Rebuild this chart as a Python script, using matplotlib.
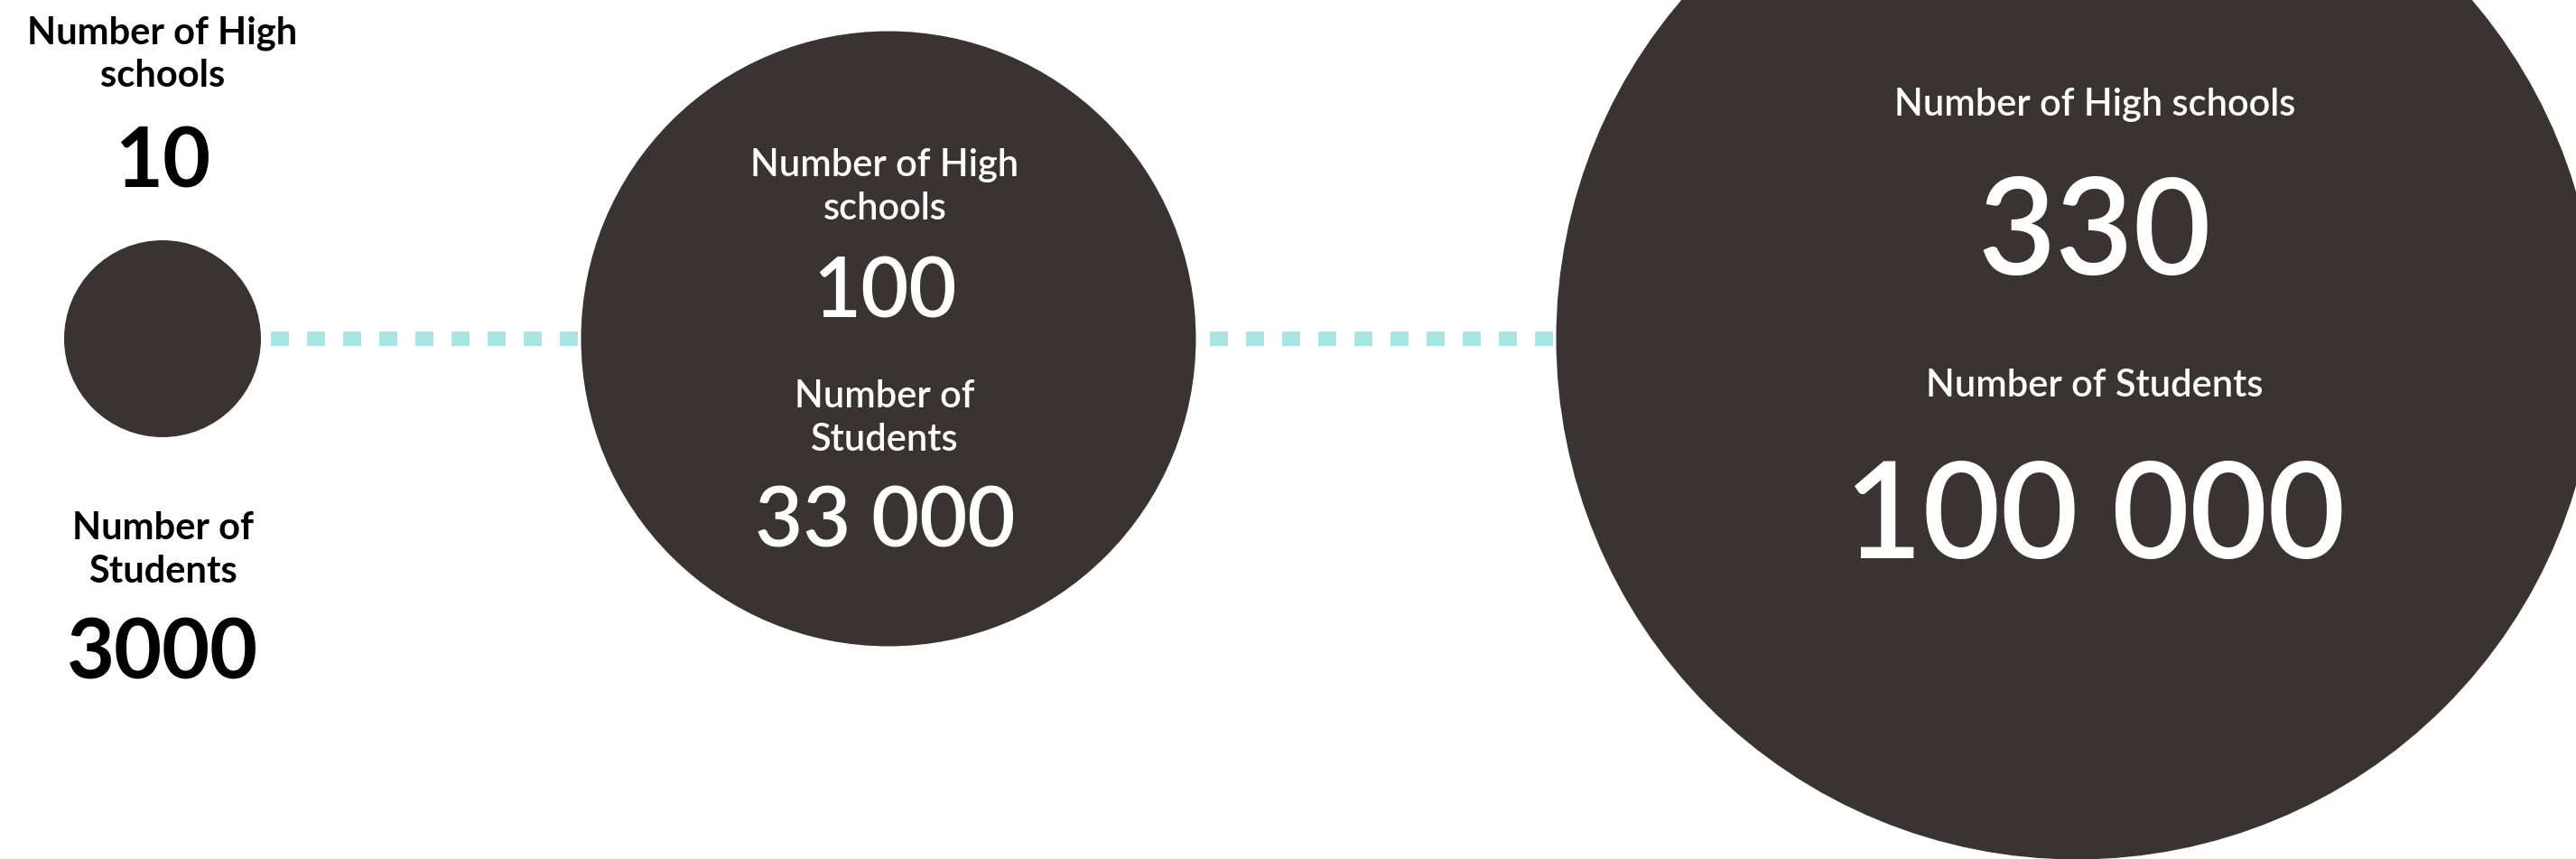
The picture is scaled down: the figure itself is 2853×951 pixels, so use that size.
import matplotlib
matplotlib.use("Agg")
import matplotlib.pyplot as plt
from matplotlib.patches import Circle

# =============================
# Data
# =============================
schools = [10, 100, 330]
students = [3000, 33000, 100000]
school_values = ["10", "100", "330"]
student_values = ["3000", "33 000", "100 000"]
school_labels = [["Number of High", "schools"],
                 ["Number of High", "schools"],
                 ["Number of High schools"]]
student_labels = [["Number of", "Students"],
                  ["Number of", "Students"],
                  ["Number of Students"]]

# =============================
# Layout (pixel coords, y down)
# =============================
W, H = 2853, 951
centers_x = [180, 984, 2300]
center_y = 375
text_x = [180, 980, 2320]
r_scale = 109 / students[0] ** 0.475   # radius ~ students^0.475

CIRCLE = "#393333"
DOTS = "#a8e5e5"
plt.rcParams["font.family"] = ["Lato", "DejaVu Sans"]
plt.rcParams["lines.scale_dashes"] = False

fig = plt.figure(figsize=(W / 100, H / 100), dpi=100)
ax = fig.add_axes([0, 0, 1, 1])
ax.set_xlim(0, W)
ax.set_ylim(H, 0)
ax.axis("off")

# dotted connector behind the circles
ax.plot([centers_x[0], centers_x[-1]], [center_y, center_y], color=DOTS,
        lw=11.5, dashes=(14.4, 14.4), dash_capstyle="butt", zorder=1)

radii = [r_scale * s ** 0.475 for s in students]
for cx, r in zip(centers_x, radii):
    ax.add_patch(Circle((cx, center_y), r, color=CIRCLE, lw=0, zorder=2))


def put_lines(x, baselines, lines, size, color, weight):
    for y, line in zip(baselines, lines):
        ax.text(x, y, line, ha="center", va="baseline", fontsize=size,
                color=color, fontweight=weight, zorder=3)


# left: small circle, black text outside
put_lines(text_x[0], [49, 96], school_labels[0], 30, "black", "bold")
put_lines(text_x[0], [208], [school_values[0]], 66, "black", "bold")
put_lines(text_x[0], [597, 645], student_labels[0], 30, "black", "bold")
put_lines(text_x[0], [752], [student_values[0]], 66, "black", "bold")

# middle circle
put_lines(text_x[1], [195, 243], school_labels[1], 30, "white", "semibold")
put_lines(text_x[1], [352], [school_values[1]], 66, "white", "semibold")
put_lines(text_x[1], [451, 499], student_labels[1], 30, "white", "semibold")
put_lines(text_x[1], [605], [student_values[1]], 66, "white", "semibold")

# right circle
put_lines(text_x[2], [128], school_labels[2], 30, "white", "semibold")
put_lines(text_x[2], [304], [school_values[2]], 107, "white", "semibold")
put_lines(text_x[2], [439], student_labels[2], 30, "white", "semibold")
put_lines(text_x[2], [618], [student_values[2]], 107, "white", "semibold")

fig.savefig("out.png", dpi=100, facecolor="white")
plt.close(fig)
